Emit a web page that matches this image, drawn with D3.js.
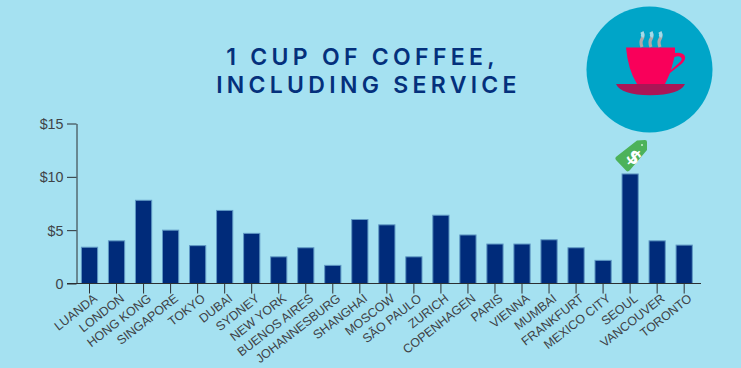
<!DOCTYPE html>
<html><head><meta charset="utf-8">
<script src="https://cdn.jsdelivr.net/npm/d3@7"></script>
<style>html,body{margin:0;padding:0;background:#a5e1f1;overflow:hidden}svg{display:block}</style>
</head><body><svg id="c" width="741" height="368"></svg>
<script>
const cities=["LUANDA","LONDON","HONG KONG","SINGAPORE","TOKYO","DUBAI","SYDNEY","NEW YORK","BUENOS AIRES","JOHANNESBURG","SHANGHAI","MOSCOW","SÃO PAULO","ZURICH","COPENHAGEN","PARIS","VIENNA","MUMBAI","FRANKFURT","MEXICO CITY","SEOUL","VANCOUVER","TORONTO"];
const prices=[3.4,4.0,7.8,5.0,3.55,6.85,4.7,2.5,3.35,1.7,6.0,5.5,2.5,6.4,4.55,3.7,3.7,4.1,3.35,2.17,10.27,4.0,3.6];
const yTicks=[0,5,10,15];
const yTickLabels=["0","$5","$10","$15"];
const titleLines=["1 CUP OF COFFEE,","INCLUDING SERVICE"];

const svg=d3.select("#c");
svg.append("rect").attr("width",741).attr("height",368).attr("fill","#a5e1f1");
const x=d3.scaleBand().domain(cities).range([76,697.7]).paddingInner(0.4).paddingOuter(0.2);
const y=d3.scaleLinear().domain([0,15]).range([283.5,123.5]);
const axisCol="#2b2f33",textCol="#3f4347",navy="#002b7a";

svg.selectAll(".t").data(titleLines).join("text").attr("class","t")
 .attr("x",(d,i)=>i?368.5:362.5).attr("y",(d,i)=>65+i*28).attr("text-anchor","middle")
 .attr("font-family","Inter, sans-serif").attr("font-size",23).attr("font-weight",600)
 .attr("letter-spacing",4.3).attr("fill","#04307c").text(d=>d);

svg.selectAll(".b").data(prices).join("rect").attr("class","b")
 .attr("x",(d,i)=>x(cities[i])).attr("width",x.bandwidth())
 .attr("y",d=>y(d)).attr("height",d=>y(0)-y(d))
 .attr("fill",navy).attr("stroke","#5f98c4").attr("stroke-width",1);

const gy=svg.append("g").attr("transform","translate(76.5,0)")
 .call(d3.axisLeft(y).tickValues(yTicks).tickSize(9.5).tickSizeOuter(0).tickPadding(3.5).tickFormat((d,i)=>yTickLabels[i]));
gy.selectAll("path,line").attr("stroke",axisCol).attr("stroke-width",1);
gy.selectAll("text").attr("font-family","'Liberation Sans',sans-serif").attr("font-size",14.3).attr("fill",textCol).attr("dy","0.35em");

const gx=svg.append("g").attr("transform","translate(0,283.5)")
 .call(d3.axisBottom(x).tickSize(10).tickSizeOuter(0).tickPadding(0));
gx.select("path").remove();
gx.selectAll("line").attr("stroke",axisCol).attr("stroke-width",1);
gx.selectAll("text").attr("font-family","'Liberation Sans',sans-serif").attr("font-size",12.4).attr("fill",textCol)
 .attr("text-anchor","end").attr("dy",0).attr("y",0)
 .attr("transform","translate(8.5,16.5) rotate(-38)");
svg.append("line").attr("x1",67).attr("x2",701).attr("y1",283.5).attr("y2",283.5).attr("stroke",axisCol);

// coffee badge
const ic=svg.append("g");
ic.append("circle").attr("cx",649.5).attr("cy",69.5).attr("r",63).attr("fill","#00a5c8");
ic.append("path").attr("d","M616 84 H685 Q680 95 650 95.3 Q621 95 616 84Z").attr("fill","#ab1656");
ic.append("path").attr("d","M626 47.5 H675 V53 Q682 52 684.5 55.5 Q686.5 59 682 63.5 L670 73 Q667 80 665 84 H637 Q628 70 626 47.5Z M674.5 57 L671 70 L679 63 Q683 59.5 681 57.5 Q679 55.5 674.5 57Z").attr("fill","#f9005a").attr("fill-rule","evenodd");
[642,651,660].forEach(sx=>{
 ic.append("path").attr("d",`M${sx} 47 q-2 -5 0 -8 q2 -3 0 -7`).attr("fill","none").attr("stroke","#b3a9a9").attr("stroke-width",3.2);
 ic.append("path").attr("d",`M${sx} 37 q1.6 -2 0 -5`).attr("fill","none").attr("stroke","#9fdcec").attr("stroke-width",3.2);
});
// price tag
const tag=svg.append("g");
tag.append("path").attr("d","M637 140.5 L645 140 Q647 140 647 142 L647 150 L630 170 Q628 172.5 626 170.5 L616 160 Q614.5 158 616.5 156.5Z").attr("fill","#4cb25a");
tag.append("text").attr("text-anchor","middle").attr("font-family","'DejaVu Sans',sans-serif").attr("font-weight",700).attr("font-size",19).attr("fill","#fff").attr("transform","translate(630,162) rotate(42)").text("$");
tag.append("circle").attr("cx",642).attr("cy",145).attr("r",1).attr("fill","#cdeed3");
</script></body></html>
